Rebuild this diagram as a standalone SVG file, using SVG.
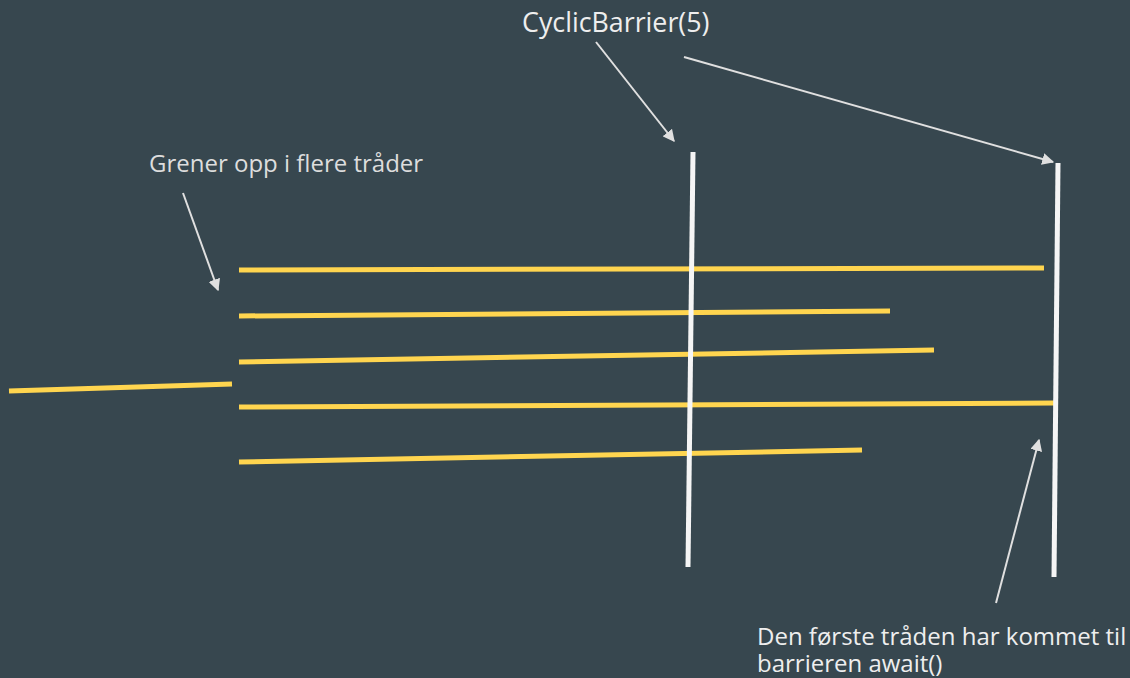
<svg xmlns="http://www.w3.org/2000/svg" width="1130" height="678" viewBox="0 0 1130 678">
  <style>
    .thread { stroke: #ffd54f; stroke-width: 5; fill: none; }
    .barrier { stroke: #f5f5f5; stroke-width: 5; fill: none; }
    .pointer { stroke: #e0e0e0; stroke-width: 2; fill: none; marker-end: url(#head); }
    .label { font-family: "Open Sans", "Noto Sans", "Liberation Sans", sans-serif; font-size: 24px; fill: #eeeeee; }
    .label.title { font-size: 26.8px; }
    .label.dim { fill: #dddddd; }
  </style>
  <defs>
    <marker id="head" viewBox="0 0 10 10" refX="9" refY="5" markerWidth="6" markerHeight="6" orient="auto" markerUnits="strokeWidth">
      <path d="M0,0 L10,5 L0,10 z" fill="#e0e0e0"/>
    </marker>
  </defs>
  <rect width="1130" height="678" fill="#37474f"/>

  <!-- main thread before the fork, and the five worker threads -->
  <g id="threads">
    <line class="thread" x1="9" y1="391" x2="232" y2="384"/>
    <line class="thread" x1="239" y1="270" x2="1044" y2="268"/>
    <line class="thread" x1="239" y1="316" x2="890" y2="311"/>
    <line class="thread" x1="239" y1="362" x2="934" y2="350"/>
    <line class="thread" x1="239" y1="407" x2="1054" y2="403"/>
    <line class="thread" x1="239" y1="462" x2="862" y2="450"/>
  </g>

  <!-- barrier generations -->
  <g id="barrier-1">
    <line class="barrier" x1="693" y1="152" x2="688" y2="567"/>
  </g>
  <g id="barrier-2">
    <line class="barrier" x1="1058" y1="163" x2="1054" y2="577"/>
  </g>

  <g id="label-barrier">
    <text class="label title" x="522" y="32">CyclicBarrier(5)</text>
  </g>
  <g id="label-fork">
    <text class="label dim" x="149" y="172">Grener opp i flere tråder</text>
  </g>
  <g id="label-await">
    <text class="label" x="757" y="645">Den første tråden har kommet til</text>
    <text class="label" x="757" y="672">barrieren await()</text>
  </g>

  <g id="connectors">
    <line class="pointer" x1="596" y1="42" x2="674" y2="141"/>
    <line class="pointer" x1="684" y1="57" x2="1053" y2="162"/>
    <line class="pointer" x1="183" y1="193" x2="218" y2="290"/>
    <line class="pointer" x1="996" y1="603" x2="1039" y2="440"/>
  </g>
</svg>
